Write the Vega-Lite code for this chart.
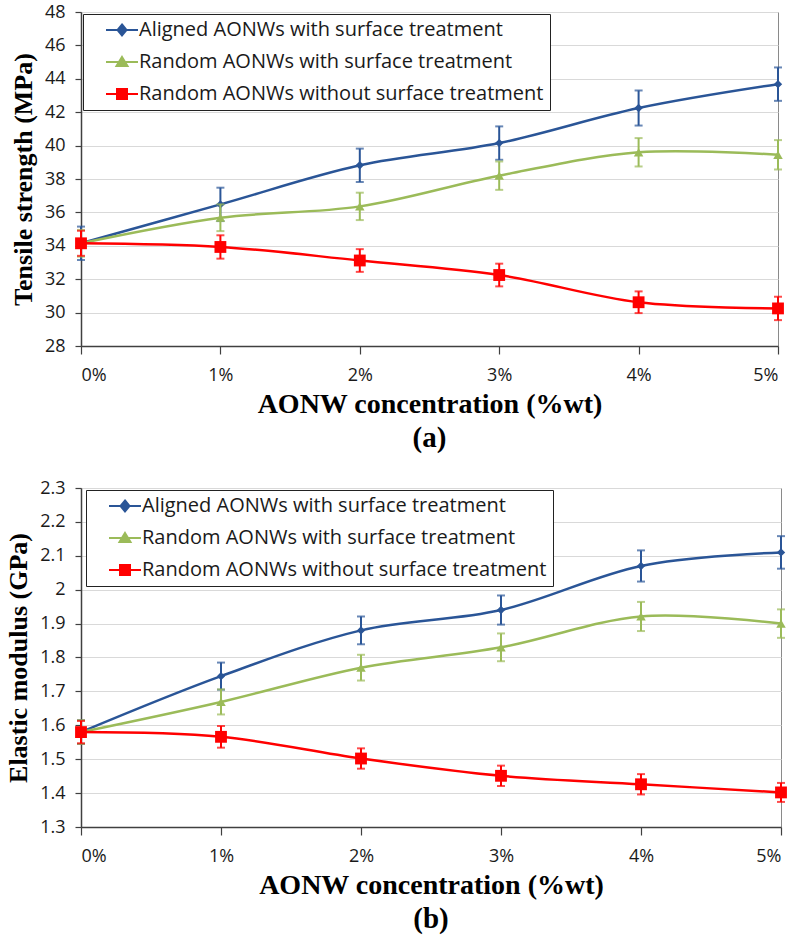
{
  "$schema": "https://vega.github.io/schema/vega-lite/v6.json",
  "background": "white",
  "padding": {"left": 5, "top": 2, "right": 5, "bottom": 5},
  "bounds": "flush",
  "spacing": 142,
  "datasets": {
    "ts": [
      {"c": 0, "s": "Aligned AONWs with surface treatment", "v": 34.15, "e": 1.0},
      {"c": 1, "s": "Aligned AONWs with surface treatment", "v": 36.48, "e": 1.0},
      {"c": 2, "s": "Aligned AONWs with surface treatment", "v": 38.82, "e": 1.0},
      {"c": 3, "s": "Aligned AONWs with surface treatment", "v": 40.15, "e": 1.0},
      {"c": 4, "s": "Aligned AONWs with surface treatment", "v": 42.25, "e": 1.05},
      {"c": 5, "s": "Aligned AONWs with surface treatment", "v": 43.68, "e": 1.0},
      {"c": 0, "s": "Random AONWs with surface treatment", "v": 34.15, "e": 0.8},
      {"c": 1, "s": "Random AONWs with surface treatment", "v": 35.68, "e": 0.8},
      {"c": 2, "s": "Random AONWs with surface treatment", "v": 36.36, "e": 0.82},
      {"c": 3, "s": "Random AONWs with surface treatment", "v": 38.2, "e": 0.85},
      {"c": 4, "s": "Random AONWs with surface treatment", "v": 39.6, "e": 0.85},
      {"c": 5, "s": "Random AONWs with surface treatment", "v": 39.45, "e": 0.88},
      {"c": 0, "s": "Random AONWs without surface treatment", "v": 34.15, "e": 0.75},
      {"c": 1, "s": "Random AONWs without surface treatment", "v": 33.93, "e": 0.7},
      {"c": 2, "s": "Random AONWs without surface treatment", "v": 33.12, "e": 0.68},
      {"c": 3, "s": "Random AONWs without surface treatment", "v": 32.25, "e": 0.68},
      {"c": 4, "s": "Random AONWs without surface treatment", "v": 30.62, "e": 0.65},
      {"c": 5, "s": "Random AONWs without surface treatment", "v": 30.25, "e": 0.7}
    ],
    "em": [
      {"c": 0, "s": "Aligned AONWs with surface treatment", "v": 1.58, "e": 0.035},
      {"c": 1, "s": "Aligned AONWs with surface treatment", "v": 1.745, "e": 0.04},
      {"c": 2, "s": "Aligned AONWs with surface treatment", "v": 1.88, "e": 0.041},
      {"c": 3, "s": "Aligned AONWs with surface treatment", "v": 1.94, "e": 0.043},
      {"c": 4, "s": "Aligned AONWs with surface treatment", "v": 2.07, "e": 0.046},
      {"c": 5, "s": "Aligned AONWs with surface treatment", "v": 2.11, "e": 0.048},
      {"c": 0, "s": "Random AONWs with surface treatment", "v": 1.58, "e": 0.035},
      {"c": 1, "s": "Random AONWs with surface treatment", "v": 1.669, "e": 0.037},
      {"c": 2, "s": "Random AONWs with surface treatment", "v": 1.77, "e": 0.038},
      {"c": 3, "s": "Random AONWs with surface treatment", "v": 1.83, "e": 0.041},
      {"c": 4, "s": "Random AONWs with surface treatment", "v": 1.921, "e": 0.043},
      {"c": 5, "s": "Random AONWs with surface treatment", "v": 1.9, "e": 0.042},
      {"c": 0, "s": "Random AONWs without surface treatment", "v": 1.58, "e": 0.033},
      {"c": 1, "s": "Random AONWs without surface treatment", "v": 1.566, "e": 0.032},
      {"c": 2, "s": "Random AONWs without surface treatment", "v": 1.502, "e": 0.03},
      {"c": 3, "s": "Random AONWs without surface treatment", "v": 1.451, "e": 0.03},
      {"c": 4, "s": "Random AONWs without surface treatment", "v": 1.426, "e": 0.03},
      {"c": 5, "s": "Random AONWs without surface treatment", "v": 1.402, "e": 0.028}
    ]
  },
  "vconcat": [
    {
      "width": 697,
      "height": 334,
      "title": {"text": "(a)"},
      "data": {"name": "ts"},
      "encoding": {
        "x": {"field": "c", "type": "quantitative", "scale": {"domain": [0, 5], "nice": false}, "axis": {"values": [0, 1, 2, 3, 4, 5], "labelExpr": "datum.value + '%'", "title": "AONW concentration (%wt)"}},
        "y": {"field": "v", "type": "quantitative", "scale": {"domain": [28, 48], "nice": false, "zero": false}, "axis": {"values": [28, 30, 32, 34, 36, 38, 40, 42, 44, 46, 48], "title": "Tensile strength (MPa)"}}
      },
      "layer": [
        {"transform": [{"filter": "datum.s === 'Aligned AONWs with surface treatment'"}], "layer": [
          {"mark": {"type": "line", "interpolate": "cardinal", "strokeWidth": 2.5, "color": "#2a5597"}},
          {"mark": {"type": "errorbar", "ticks": {"color": "#2a5597"}, "rule": {"color": "#2a5597"}, "color": "#2a5597", "size": 8, "thickness": 2}, "encoding": {"y": {"field": "v", "type": "quantitative"}, "yError": {"field": "e"}}},
          {"mark": {"type": "point", "shape": "diamond", "filled": true, "opacity": 1, "size": 70, "color": "#2a5597"}}
        ]},
        {"transform": [{"filter": "datum.s === 'Random AONWs with surface treatment'"}], "layer": [
          {"mark": {"type": "line", "interpolate": "cardinal", "strokeWidth": 2.5, "color": "#9bbb59"}},
          {"mark": {"type": "errorbar", "ticks": {"color": "#9bbb59"}, "rule": {"color": "#9bbb59"}, "color": "#9bbb59", "size": 8, "thickness": 2}, "encoding": {"y": {"field": "v", "type": "quantitative"}, "yError": {"field": "e"}}},
          {"mark": {"type": "point", "shape": "triangle-up", "filled": true, "opacity": 1, "size": 90, "color": "#9bbb59"}}
        ]},
        {"transform": [{"filter": "datum.s === 'Random AONWs without surface treatment'"}], "layer": [
          {"mark": {"type": "line", "interpolate": "cardinal", "strokeWidth": 2.5, "color": "#ff0000"}},
          {"mark": {"type": "errorbar", "ticks": {"color": "#ff0000"}, "rule": {"color": "#ff0000"}, "color": "#ff0000", "size": 8, "thickness": 2}, "encoding": {"y": {"field": "v", "type": "quantitative"}, "yError": {"field": "e"}}},
          {"mark": {"type": "point", "shape": "square", "filled": true, "opacity": 1, "size": 140, "color": "#ff0000"}}
        ]},
        {"mark": {"type": "point", "filled": true, "opacity": 0, "size": 100, "strokeWidth": 2},
         "encoding": {
           "shape": {"field": "s", "type": "nominal", "scale": {"domain": ["Aligned AONWs with surface treatment", "Random AONWs with surface treatment", "Random AONWs without surface treatment"], "range": ["M-3.2,0H3.2M0,-1.1L0.9,0L0,1.1L-0.9,0Z", "M-3.2,0H3.2M0,-1L1.1,0.8L-1.1,0.8Z", "M-3.2,0H3.2M-1,-1H1V1H-1Z"]},
             "legend": {"orient": "none", "legendX": 2, "legendY": 2, "title": null, "symbolOpacity": 1}},
           "fill": {"field": "s", "type": "nominal", "scale": {"domain": ["Aligned AONWs with surface treatment", "Random AONWs with surface treatment", "Random AONWs without surface treatment"], "range": ["#2a5597", "#9bbb59", "#ff0000"]},
             "legend": {"orient": "none", "legendX": 2, "legendY": 2, "title": null, "symbolOpacity": 1}},
           "stroke": {"field": "s", "type": "nominal", "scale": {"domain": ["Aligned AONWs with surface treatment", "Random AONWs with surface treatment", "Random AONWs without surface treatment"], "range": ["#2a5597", "#9bbb59", "#ff0000"]},
             "legend": {"orient": "none", "legendX": 2, "legendY": 2, "title": null, "symbolOpacity": 1}}
         }}
      ]
    },
    {
      "width": 700,
      "height": 339,
      "title": {"text": "(b)"},
      "data": {"name": "em"},
      "encoding": {
        "x": {"field": "c", "type": "quantitative", "scale": {"domain": [0, 5], "nice": false}, "axis": {"values": [0, 1, 2, 3, 4, 5], "labelExpr": "datum.value + '%'", "title": "AONW concentration (%wt)"}},
        "y": {"field": "v", "type": "quantitative", "scale": {"domain": [1.3, 2.3], "nice": false, "zero": false}, "axis": {"values": [1.3, 1.4, 1.5, 1.6, 1.7, 1.8, 1.9, 2.0, 2.1, 2.2, 2.3], "format": ".2~f", "title": "Elastic modulus (GPa)"}}
      },
      "layer": [
        {"transform": [{"filter": "datum.s === 'Aligned AONWs with surface treatment'"}], "layer": [
          {"mark": {"type": "line", "interpolate": "cardinal", "strokeWidth": 2.5, "color": "#2a5597"}},
          {"mark": {"type": "errorbar", "ticks": {"color": "#2a5597"}, "rule": {"color": "#2a5597"}, "color": "#2a5597", "size": 8, "thickness": 2}, "encoding": {"y": {"field": "v", "type": "quantitative"}, "yError": {"field": "e"}}},
          {"mark": {"type": "point", "shape": "diamond", "filled": true, "opacity": 1, "size": 70, "color": "#2a5597"}}
        ]},
        {"transform": [{"filter": "datum.s === 'Random AONWs with surface treatment'"}], "layer": [
          {"mark": {"type": "line", "interpolate": "cardinal", "strokeWidth": 2.5, "color": "#9bbb59"}},
          {"mark": {"type": "errorbar", "ticks": {"color": "#9bbb59"}, "rule": {"color": "#9bbb59"}, "color": "#9bbb59", "size": 8, "thickness": 2}, "encoding": {"y": {"field": "v", "type": "quantitative"}, "yError": {"field": "e"}}},
          {"mark": {"type": "point", "shape": "triangle-up", "filled": true, "opacity": 1, "size": 90, "color": "#9bbb59"}}
        ]},
        {"transform": [{"filter": "datum.s === 'Random AONWs without surface treatment'"}], "layer": [
          {"mark": {"type": "line", "interpolate": "cardinal", "strokeWidth": 2.5, "color": "#ff0000"}},
          {"mark": {"type": "errorbar", "ticks": {"color": "#ff0000"}, "rule": {"color": "#ff0000"}, "color": "#ff0000", "size": 8, "thickness": 2}, "encoding": {"y": {"field": "v", "type": "quantitative"}, "yError": {"field": "e"}}},
          {"mark": {"type": "point", "shape": "square", "filled": true, "opacity": 1, "size": 140, "color": "#ff0000"}}
        ]},
        {"mark": {"type": "point", "filled": true, "opacity": 0, "size": 100, "strokeWidth": 2},
         "encoding": {
           "shape": {"field": "s", "type": "nominal", "scale": {"domain": ["Aligned AONWs with surface treatment", "Random AONWs with surface treatment", "Random AONWs without surface treatment"], "range": ["M-3.2,0H3.2M0,-1.1L0.9,0L0,1.1L-0.9,0Z", "M-3.2,0H3.2M0,-1L1.1,0.8L-1.1,0.8Z", "M-3.2,0H3.2M-1,-1H1V1H-1Z"]},
             "legend": {"orient": "none", "legendX": 5, "legendY": 2, "title": null, "symbolOpacity": 1}},
           "fill": {"field": "s", "type": "nominal", "scale": {"domain": ["Aligned AONWs with surface treatment", "Random AONWs with surface treatment", "Random AONWs without surface treatment"], "range": ["#2a5597", "#9bbb59", "#ff0000"]},
             "legend": {"orient": "none", "legendX": 5, "legendY": 2, "title": null, "symbolOpacity": 1}},
           "stroke": {"field": "s", "type": "nominal", "scale": {"domain": ["Aligned AONWs with surface treatment", "Random AONWs with surface treatment", "Random AONWs without surface treatment"], "range": ["#2a5597", "#9bbb59", "#ff0000"]},
             "legend": {"orient": "none", "legendX": 5, "legendY": 2, "title": null, "symbolOpacity": 1}}
         }}
      ]
    }
  ],
  "resolve": {
    "scale": {"shape": "independent", "fill": "independent", "stroke": "independent"},
    "legend": {"shape": "independent", "fill": "independent", "stroke": "independent"}
  },
  "config": {
    "font": "Open Sans",
    "view": {"stroke": "#8a8a8a", "strokeWidth": 1},
    "axis": {"labelFont": "Open Sans", "labelFontSize": 18, "labelColor": "#1a1a1a", "titleFont": "Liberation Serif", "titleFontWeight": "bold", "titleFontSize": 28, "titleColor": "#000000", "domainColor": "#404040", "tickColor": "#404040", "gridColor": "#d9d9d9", "domainWidth": 1.5, "tickWidth": 1.2},
    "axisX": {"grid": false, "tickSize": 8, "labelPadding": 12, "titlePadding": 6},
    "axisY": {"tickSize": 6, "labelPadding": 10, "titlePadding": 8, "titleFontSize": 26},
    "title": {"font": "Liberation Serif", "fontWeight": "bold", "fontSize": 29, "orient": "bottom", "anchor": "middle", "offset": 6, "color": "#000000"},
    "legend": {"strokeColor": "#222222", "fillColor": "#ffffff", "padding": 6, "labelFont": "Open Sans", "labelFontSize": 20, "labelColor": "#1a1a1a", "symbolOffset": 23, "labelOffset": 7, "rowPadding": 12, "symbolSize": 100, "symbolStrokeWidth": 2, "labelLimit": 0}
  }
}
